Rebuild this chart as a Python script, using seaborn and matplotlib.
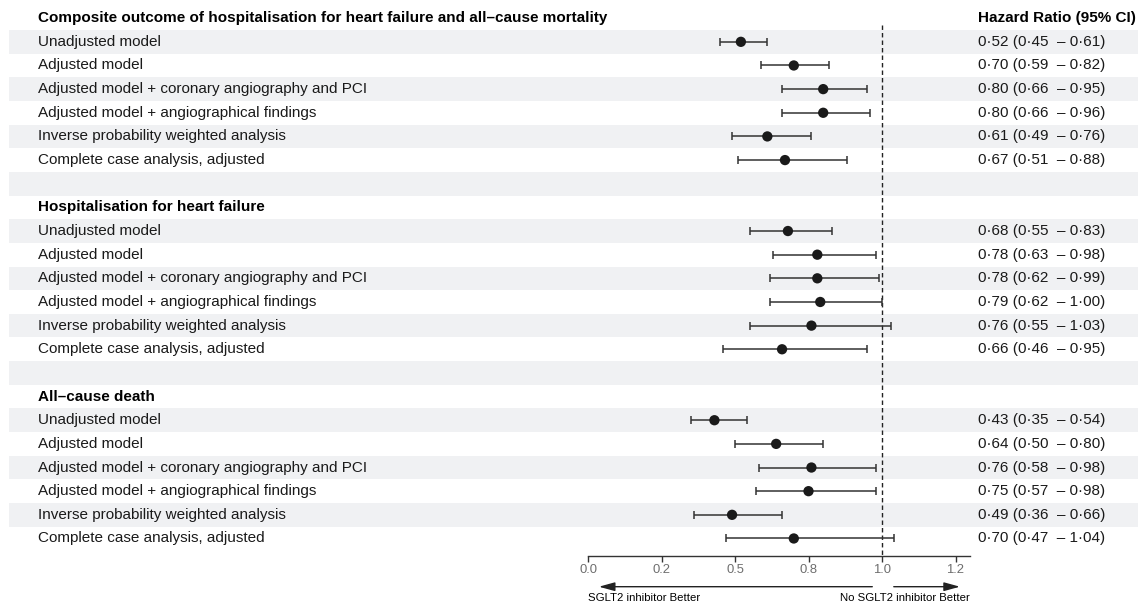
import matplotlib
matplotlib.use("Agg")
import matplotlib.pyplot as plt
import matplotlib.transforms as mtransforms
import seaborn as sns
import pandas as pd

# ---------------- data ----------------
groups = [
    "Composite outcome of hospitalisation for heart failure and all\u2013cause mortality",
    "Hospitalisation for heart failure",
    "All\u2013cause death",
]
models = [
    "Unadjusted model",
    "Adjusted model",
    "Adjusted model + coronary angiography and PCI",
    "Adjusted model + angiographical findings",
    "Inverse probability weighted analysis",
    "Complete case analysis, adjusted",
]
hr_composite = [0.52, 0.70, 0.80, 0.80, 0.61, 0.67]
lo_composite = [0.45, 0.59, 0.66, 0.66, 0.49, 0.51]
hi_composite = [0.61, 0.82, 0.95, 0.96, 0.76, 0.88]

hr_hf = [0.68, 0.78, 0.78, 0.79, 0.76, 0.66]
lo_hf = [0.55, 0.63, 0.62, 0.62, 0.55, 0.46]
hi_hf = [0.83, 0.98, 0.99, 1.00, 1.03, 0.95]

hr_death = [0.43, 0.64, 0.76, 0.75, 0.49, 0.70]
lo_death = [0.35, 0.50, 0.58, 0.57, 0.36, 0.47]
hi_death = [0.54, 0.80, 0.98, 0.98, 0.66, 1.04]

x_ticks = [0.0, 0.25, 0.5, 0.75, 1.0, 1.25]
x_ticklabels = ["0.0", "0.2", "0.5", "0.8", "1.0", "1.2"]
ci_header = "Hazard Ratio (95% CI)"
left_arrow_label = "SGLT2 inhibitor Better"
right_arrow_label = "No SGLT2 inhibitor Better"

# ---------------- table ----------------
all_hr = [hr_composite, hr_hf, hr_death]
all_lo = [lo_composite, lo_hf, lo_death]
all_hi = [hi_composite, hi_hf, hi_death]

records = []
row = 0
header_rows = []
for g, name in enumerate(groups):
    header_rows.append((row, name))
    row += 1
    for m, lab in enumerate(models):
        records.append(dict(row=row, label=lab, hr=all_hr[g][m],
                            lo=all_lo[g][m], hi=all_hi[g][m]))
        row += 1
    if g < len(groups) - 1:
        row += 1  # blank spacer row
n_rows = row
df = pd.DataFrame(records)
df["txt"] = df.apply(lambda r: f"{r.hr:.2f} ({r.lo:.2f}  \u2013 {r.hi:.2f})".replace(".", "\u00b7"), axis=1)

# ---------------- figure ----------------
sns.set_theme(style="white")
plt.rcParams["font.family"] = ["Liberation Sans", "DejaVu Sans"]

W, H, DPI = 1138, 603, 100
fig = plt.figure(figsize=(W / DPI, H / DPI), dpi=DPI)

row_h = 23.65
top_px = 6.35
axis_px = 556.0
y_bottom = (axis_px - top_px) / row_h - 0.5
ax_bottom = 1 - axis_px / H
ax_top = 1 - top_px / H

# background axes (stripes + text columns)
bg = fig.add_axes([0, ax_bottom, 1, ax_top - ax_bottom], zorder=0)
bg.set_xlim(0, 1)
bg.set_ylim(y_bottom, -0.5)
bg.axis("off")
for r in range(n_rows):
    if r % 2 == 1:
        bg.axhspan(r - 0.5, r + 0.5, xmin=9 / W, xmax=1, color="#F0F1F3", lw=0, zorder=0)

label_x = 38 / W
ci_x = 978 / W
fs = 11
for r, name in header_rows:
    bg.text(label_x, r, name, fontsize=fs, fontweight="bold", va="center", ha="left", color="black")
bg.text(ci_x, 0, ci_header, fontsize=fs, fontweight="bold", va="center", ha="left", color="black")
for _, rec in df.iterrows():
    bg.text(label_x, rec.row, rec.label, fontsize=fs, va="center", ha="left", color="#1A1A1A")
    bg.text(ci_x, rec.row, rec.txt, fontsize=fs, va="center", ha="left", color="#1A1A1A")

# forest axes
x0_px, x1_px = 588, 588 + 1.3 * 294
ax = fig.add_axes([x0_px / W, ax_bottom, (x1_px - x0_px) / W, ax_top - ax_bottom], zorder=1)
ax.patch.set_alpha(0)
ax.set_xlim(0, 1.3)
ax.set_ylim(y_bottom, -0.5)

ax.vlines(1.0, 0.3, y_bottom, colors="#222222", linewidth=1.0,
          linestyles=(0, (3.2, 2.2)), clip_on=False, zorder=1)

ax.errorbar(df["hr"], df["row"], xerr=[df["hr"] - df["lo"], df["hi"] - df["hr"]],
            fmt="none", ecolor="#333333", elinewidth=1.1, capsize=2.6, capthick=1.1, zorder=2)
sns.scatterplot(data=df, x="hr", y="row", ax=ax, s=55, color="#1A1A1A",
                edgecolor="none", zorder=3, legend=False)

ax.set_xlabel("")
ax.set_ylabel("")
ax.set_yticks([])
ax.set_xticks(x_ticks)
ax.set_xticklabels(x_ticklabels)
for s in ["left", "top", "right"]:
    ax.spines[s].set_visible(False)
ax.spines["bottom"].set_color("#333333")
ax.spines["bottom"].set_linewidth(1.0)
ax.tick_params(axis="x", direction="out", length=4, width=1.0, color="#333333",
               pad=2, labelsize=9.4, labelcolor="#6E6E6E", bottom=True)

# arrows
tr = mtransforms.blended_transform_factory(ax.transData, fig.transFigure)
ya = 1 - 586.7 / H
yt = 1 - 598.0 / H
arrow_kw = dict(arrowstyle="-|>,head_length=0.8,head_width=0.22", color="#222222", lw=1.0,
                shrinkA=0, shrinkB=0)
ax.annotate("", xy=(0.037, ya), xytext=(0.967, ya), xycoords=tr, textcoords=tr,
            arrowprops=arrow_kw, annotation_clip=False)
ax.annotate("", xy=(1.265, ya), xytext=(1.04, ya), xycoords=tr, textcoords=tr,
            arrowprops=arrow_kw, annotation_clip=False)
ax.text(0.0, yt, left_arrow_label, transform=tr, fontsize=8.2, ha="left", va="center", color="black")
ax.text(1.3, yt, right_arrow_label, transform=tr, fontsize=8.2, ha="right", va="center", color="black")

fig.savefig("out.png", dpi=DPI)
